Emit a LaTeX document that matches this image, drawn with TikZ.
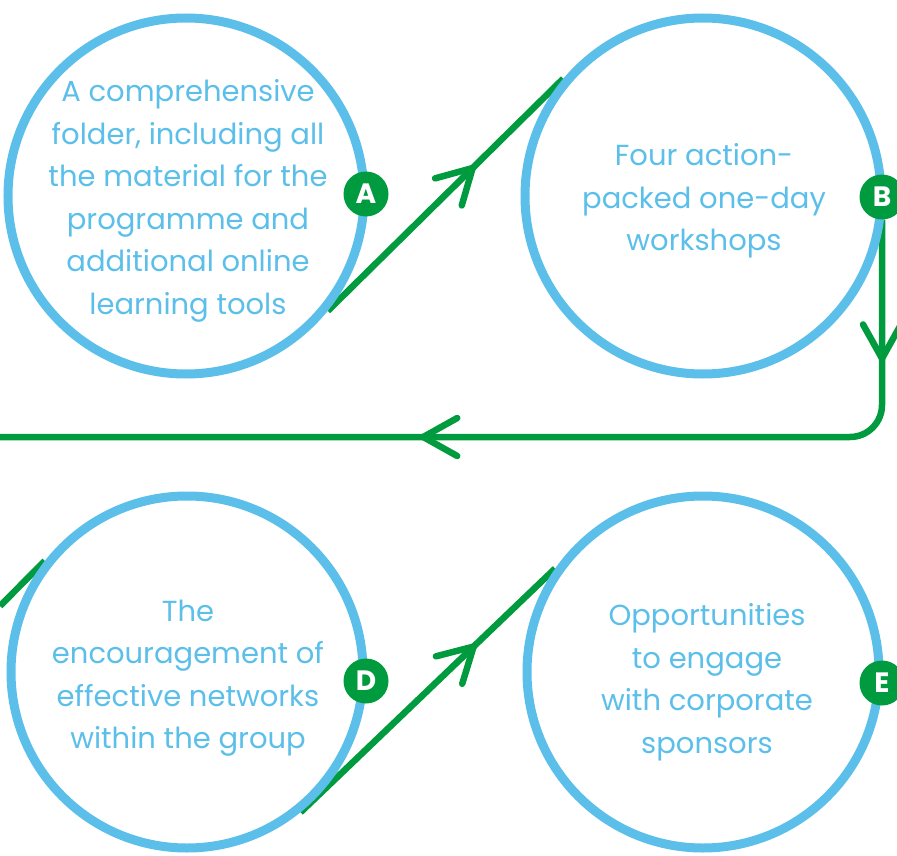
\documentclass[tikz,border=0pt]{standalone}
\usepackage{fontspec}
\setmainfont{Poppins}
\usetikzlibrary{arrows.meta,decorations.markings,backgrounds}
\definecolor{ringblue}{HTML}{5BBFEA}
\definecolor{flowgreen}{HTML}{009B3E}
\tikzset{mybarb/.tip={Straight Barb[length=34pt,width=38pt,line cap=round,line join=round]}}
\begin{document}
\begin{tikzpicture}[x=1pt,y=-1pt,
  ring/.style={circle,draw=ringblue,line width=9pt,minimum size=356pt,inner sep=0pt},
  label/.style={text=ringblue,font=\fontsize{29}{42.5}\selectfont,align=center,inner sep=0pt},
  badge/.style={circle,fill=flowgreen,minimum size=45pt,inner sep=0pt,text=white,font=\fontsize{28}{28}\selectfont\bfseries},
  flow/.style={draw=flowgreen,line width=6.5pt},
  midarrow/.style={postaction={decorate},decoration={markings,mark=at position #1 with {\arrow{mybarb}}}}
]
\useasboundingbox (0,0) rectangle (897,856);
% circles
\node[ring] (A) at (186,196) {};
\node[ring] (B) at (703,196) {};
\node[ring,minimum size=352pt] (D) at (187,672) {};
\node[ring,minimum size=352pt] (E) at (703,672) {};
% texts
\node[label] (tA) at (188,201) {A comprehensive\\folder, including all\\the material for the\\programme and\\additional online\\learning tools};
\node[label] (tB) at (704,201) {Four action-\\packed one-day\\workshops};
\node[label] (tD) at (188,678) {The\\encouragement of\\effective networks\\within the group};
\node[label] (tE) at (707,682) {Opportunities\\to engage\\with corporate\\sponsors};
% badges
\node[badge] (bA) at (366,194) {A};
\node[badge] (bB) at (882,197) {B};
\node[badge] (bD) at (366,681) {D};
\node[badge] (bE) at (882,683) {E};
% connectors
\coordinate (corner) at (882,437);
\coordinate (leftend) at (0,437);
\coordinate (leftin) at (0,606);
\begin{scope}[on background layer]
\draw[flow,midarrow=0.625] (A.-39) -- (B.140);
\draw[flow,rounded corners=32pt,postaction={decorate},
  decoration={markings,mark=at position 142pt with {\arrow{mybarb}},mark=at position -420pt with {\arrow{mybarb}}}]
  (bB.south) -- (corner) -- (leftend);
\draw[flow] (leftin) -- (D.142);
\draw[flow,midarrow=0.689] (D.-51) -- (E.145);
\end{scope}
\end{tikzpicture}
\end{document}
